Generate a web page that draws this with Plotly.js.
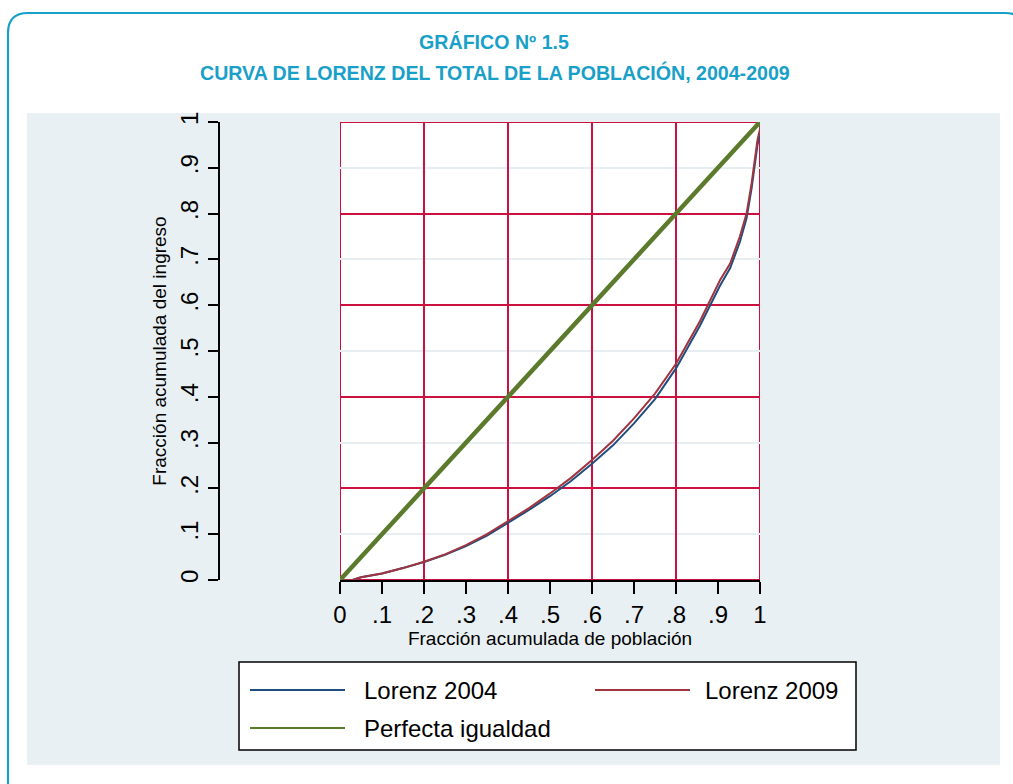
<!DOCTYPE html>
<html>
<head>
<meta charset="utf-8">
<script src="https://cdn.plot.ly/plotly-3.0.1.min.js"></script>
<style>html,body{margin:0;padding:0;background:#fff;}#chart{width:1013px;height:784px;}</style>
</head>
<body>
<div id="chart"></div>
<script>
// Fracción acumulada de población (eje X)
const popShare   = [0, 0.03, 0.05, 0.10, 0.15, 0.20, 0.25, 0.30, 0.35, 0.40, 0.45, 0.50, 0.55, 0.60, 0.65, 0.70, 0.75, 0.80, 0.857, 0.905, 0.929, 0.952, 0.968, 0.980, 0.994, 1.0, 1.0];
// Fracción acumulada del ingreso
const lorenz2004 = [0, 0, 0.006, 0.014, 0.026, 0.039, 0.055, 0.074, 0.097, 0.125, 0.153, 0.183, 0.216, 0.254, 0.294, 0.342, 0.395, 0.462, 0.555, 0.643, 0.681, 0.738, 0.790, 0.855, 0.950, 0.975, 1.0];
const lorenz2009 = [0, 0, 0.006, 0.014, 0.026, 0.040, 0.056, 0.076, 0.100, 0.128, 0.157, 0.189, 0.223, 0.262, 0.304, 0.353, 0.407, 0.472, 0.565, 0.655, 0.691, 0.750, 0.800, 0.866, 0.961, 0.985, 1.0];
const equalityX  = [0, 1];
const equalityY  = [0, 1];
const tickVals   = [0, 0.1, 0.2, 0.3, 0.4, 0.5, 0.6, 0.7, 0.8, 0.9, 1];
const tickText   = ['0', '.1', '.2', '.3', '.4', '.5', '.6', '.7', '.8', '.9', '1'];
const seriesNames = ['Lorenz 2004', 'Lorenz 2009', 'Perfecta igualdad'];
const seriesColors = ['#1f4e7e', '#a03540', '#5b7a2c'];

const W = 1013, H = 784;
const px = v => v / W;
const py = v => 1 - v / H;

const FONT = 'Liberation Sans, Arial, sans-serif';
const TITLEFONT = 'Liberation Sans, Arial, sans-serif';
const TEAL = '#19a0c9';
const GRIDRED = '#cc1040';

const traces = [
  {x: popShare, y: lorenz2004, type: 'scatter', mode: 'lines', name: seriesNames[0],
   line: {color: seriesColors[0], width: 2}, xaxis: 'x', yaxis: 'y'},
  {x: popShare, y: lorenz2009, type: 'scatter', mode: 'lines', name: seriesNames[1],
   line: {color: seriesColors[1], width: 2}, xaxis: 'x', yaxis: 'y'},
  {x: equalityX, y: equalityY, type: 'scatter', mode: 'lines', name: seriesNames[2],
   line: {color: seriesColors[2], width: 4.5}, xaxis: 'x2', yaxis: 'y2'}
];

function rp(x, y) { return px(x).toFixed(5) + ',' + py(y).toFixed(5); }
const borderPath = 'M' + rp(8, 800) + ' L' + rp(8, 33) + ' Q' + rp(8, 13) + ' ' + rp(28, 13) +
  ' L' + rp(1005, 13) + ' Q' + rp(1025, 13) + ' ' + rp(1025, 33) + ' L' + rp(1025, 800);

const legendRows = [
  {name: seriesNames[0], color: seriesColors[0], lx: 250, tx: 362, y: 690},
  {name: seriesNames[1], color: seriesColors[1], lx: 595, tx: 703, y: 690},
  {name: seriesNames[2], color: seriesColors[2], lx: 250, tx: 362, y: 728}
];

const shapes = [
  {type: 'rect', xref: 'paper', yref: 'paper', x0: px(27), x1: px(1000), y0: py(765), y1: py(113),
   fillcolor: '#e8f0f3', line: {width: 0}, layer: 'below'},
  {type: 'path', xref: 'paper', yref: 'paper', path: borderPath, line: {color: TEAL, width: 2.2}, layer: 'below'},
  {type: 'rect', xref: 'x', yref: 'y', x0: 0, x1: 1, y0: 0, y1: 1, fillcolor: '#ffffff',
   line: {color: GRIDRED, width: 2}, layer: 'below'},
  {type: 'rect', xref: 'paper', yref: 'paper', x0: px(239), x1: px(856), y0: py(750), y1: py(662),
   fillcolor: '#ffffff', line: {color: '#000', width: 1.5}, layer: 'above'}
];
legendRows.forEach(r => shapes.push({type: 'line', xref: 'paper', yref: 'paper',
  x0: px(r.lx), x1: px(r.lx + 95), y0: py(r.y), y1: py(r.y), line: {color: r.color, width: 1.8}, layer: 'above'}));

const annotations = [
  {text: 'CURVA DE LORENZ DEL TOTAL DE LA POBLACIÓN, 2004-2009', xref: 'paper', yref: 'paper',
   x: px(495), y: py(72), xanchor: 'center', yanchor: 'middle', showarrow: false,
   font: {family: TITLEFONT, size: 19.6, color: TEAL, weight: 'bold'}}
];
legendRows.forEach(r => annotations.push({text: r.name, xref: 'paper', yref: 'paper',
  x: px(r.tx), y: py(r.y), xanchor: 'left', yanchor: 'middle', showarrow: false,
  font: {family: FONT, size: 24, color: '#000'}}));

const layout = {
  width: W, height: H, autosize: false,
  margin: {l: 0, r: 0, t: 0, b: 0, pad: 0},
  paper_bgcolor: '#ffffff', plot_bgcolor: '#ffffff',
  showlegend: false,
  title: {text: 'GRÁFICO Nº 1.5', x: px(494), xanchor: 'center', xref: 'paper',
          y: py(42), yanchor: 'middle', yref: 'paper',
          font: {family: TITLEFONT, size: 19.6, color: TEAL, weight: 'bold'}},
  xaxis: {domain: [px(340), px(760)], range: [0, 1], anchor: 'y',
          tickvals: tickVals, ticktext: tickText, ticks: 'outside', ticklen: 12, tickwidth: 2, tickcolor: '#000',
          showline: true, linecolor: '#000', linewidth: 2, showgrid: false, zeroline: false,
          tickfont: {family: FONT, size: 24, color: '#000'},
          title: {text: 'Fracción acumulada de población', font: {family: FONT, size: 19, color: '#000'}, standoff: 2}},
  yaxis: {domain: [py(580), py(122)], range: [0, 1], anchor: 'free', position: px(219), side: 'left',
          tickvals: tickVals, ticktext: tickText, ticks: 'outside', ticklen: 10, tickwidth: 2, tickcolor: '#000',
          tickangle: -90,
          showline: true, linecolor: '#000', linewidth: 2, showgrid: false, zeroline: false,
          tickfont: {family: FONT, size: 24, color: '#000'},
          title: {text: 'Fracción acumulada del ingreso', font: {family: FONT, size: 19, color: '#000'}, standoff: 4}},
  xaxis2: {overlaying: 'x', anchor: 'y2', range: [0, 1], dtick: 0.2, tick0: 0, showgrid: true,
           gridcolor: GRIDRED, gridwidth: 2, showticklabels: false, ticks: '', showline: false, zeroline: false},
  yaxis2: {overlaying: 'y', anchor: 'x2', range: [0, 1], dtick: 0.2, tick0: 0, showgrid: true,
           gridcolor: GRIDRED, gridwidth: 2, showticklabels: false, ticks: '', showline: false, zeroline: false,
           minor: {dtick: 0.1, showgrid: true, gridcolor: '#e7eef1', gridwidth: 2, ticks: ''}},
  shapes: shapes,
  annotations: annotations
};

Plotly.newPlot('chart', traces, layout, {displayModeBar: false, staticPlot: true});
</script>
</body>
</html>
